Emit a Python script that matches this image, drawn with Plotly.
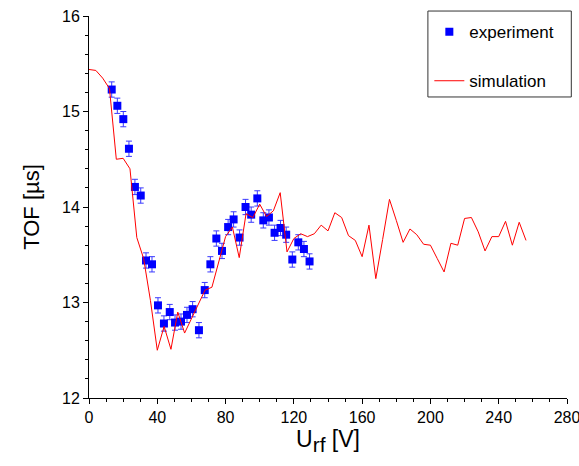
import plotly.graph_objects as go

# experiment (TOF vs U_rf)
exp_u = [13.3, 16.6, 20.1, 23.4, 26.9, 30.3, 33.4, 36.9, 40.4, 43.9, 47.3, 50.4,
         53.9, 57.4, 60.7, 64.4, 67.8, 71.1, 74.6, 77.9, 81.5, 84.7, 88.2, 91.7,
         95.0, 98.6, 102.1, 105.4, 108.7, 112.2, 115.5, 119.1, 122.6, 125.9, 129.2]
exp_tof = [15.23, 15.06, 14.92, 14.61, 14.21, 14.12, 13.44, 13.40, 12.97, 12.78,
           12.90, 12.79, 12.80, 12.87, 12.93, 12.71, 13.13, 13.40, 13.67, 13.54,
           13.79, 13.87, 13.68, 14.00, 13.92, 14.09, 13.86, 13.89, 13.73, 13.78,
           13.71, 13.45, 13.63, 13.56, 13.43]
exp_err = [0.08] * len(exp_u)

# simulation
sim_u = [0, 4, 8, 12, 16, 20, 24, 28, 32, 36, 40, 44, 48, 52, 56, 60, 64, 68,
         72, 76, 80, 84, 88, 92, 96, 100, 104, 108, 112, 116, 120, 124, 128,
         132, 136, 140, 144, 148, 152, 156, 160, 164, 168, 172, 176, 180, 184,
         188, 192, 196, 200, 204, 208, 212, 216, 220, 224, 228, 232, 236, 240,
         244, 248, 252, 256]
sim_tof = [15.44, 15.43, 15.35, 15.24, 14.50, 14.51, 14.40, 13.68, 13.46, 13.02,
           12.50, 12.75, 12.51, 12.90, 12.68, 12.83, 12.99, 13.13, 13.16, 13.44,
           13.69, 13.79, 13.47, 13.93, 13.89, 14.03, 13.90, 13.96, 14.15, 13.53,
           13.67, 13.72, 13.69, 13.72, 13.81, 13.75, 13.94, 13.89, 13.70, 13.65,
           13.48, 13.81, 13.25, 13.66, 14.08, 13.86, 13.63, 13.77, 13.71, 13.61,
           13.60, 13.46, 13.32, 13.62, 13.60, 13.88, 13.89, 13.74, 13.54, 13.69,
           13.69, 13.85, 13.60, 13.84, 13.65]

FONT = "Liberation Sans, Arial, Helvetica, sans-serif"

fig = go.Figure()
fig.add_trace(go.Scatter(
    x=exp_u, y=exp_tof, mode="markers", name="experiment",
    legendgroup="exp",
    marker=dict(symbol="square", size=8, color="#0000ff"),
    error_y=dict(type="data", array=exp_err, color="#3a3aff", thickness=1, width=3),
))
fig.add_trace(go.Scatter(
    x=sim_u, y=sim_tof, mode="lines", name="simulation",
    legendgroup="sim",
    line=dict(color="#ff0000", width=1),
))

# legend frame
fig.add_shape(type="rect", xref="paper", yref="paper",
              x0=0.709, x1=1.009, y0=0.788, y1=1.013,
              line=dict(color="#333", width=1), fillcolor="rgba(0,0,0,0)")

fig.update_layout(
    width=579, height=466,
    margin=dict(l=89, r=12, t=16, b=68, autoexpand=False),
    plot_bgcolor="white", paper_bgcolor="white",
    font=dict(family=FONT, size=16, color="black"),
    legend=dict(x=0.712, y=1.005, xanchor="left", yanchor="top",
                bgcolor="rgba(0,0,0,0)", borderwidth=0,
                traceorder="grouped", tracegroupgap=24,
                font=dict(size=17)),
)
fig.update_xaxes(
    range=[0, 280], dtick=40, showgrid=False, zeroline=False,
    showline=True, linecolor="black", linewidth=1,
    ticks="outside", ticklen=5, tickcolor="black", ticklabeloverflow="allow",
    minor=dict(dtick=10, ticks="outside", ticklen=3, tickcolor="black"),
    title=dict(text="U<sub><span style='font-size:21px'>rf</span></sub> [V]",
               font=dict(size=23), standoff=4),
)
fig.update_yaxes(
    range=[12, 16], dtick=1, showgrid=False, zeroline=False,
    showline=True, linecolor="black", linewidth=1,
    ticks="outside", ticklen=5, tickcolor="black", ticklabeloverflow="allow",
    minor=dict(dtick=0.2, ticks="outside", ticklen=3, tickcolor="black"),
    title=dict(text="TOF [µs]", font=dict(size=22), standoff=16),
)

# drop the default page margin so the figure fills the window exactly
fig.write_html("out.html", config={"displayModeBar": False}, post_script=(
    "document.body.style.margin='0';"
    "document.body.style.overflow='hidden';"
))
